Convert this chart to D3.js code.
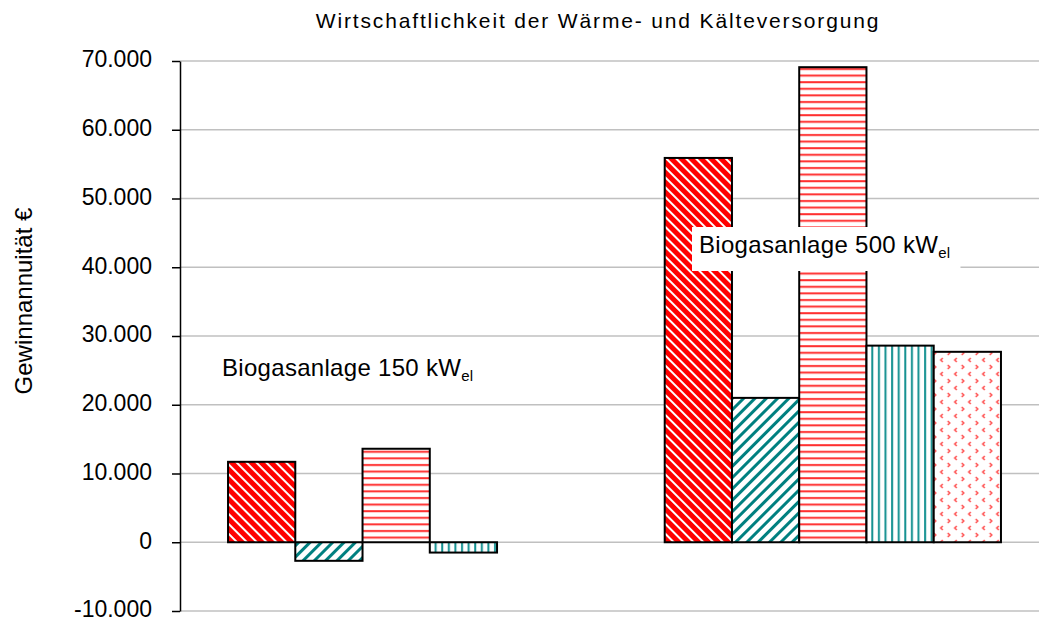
<!DOCTYPE html>
<html>
<head>
<meta charset="utf-8">
<script src="https://cdn.jsdelivr.net/npm/d3@7"></script>
<style>
  html, body { margin: 0; padding: 0; background: #fff; }
  svg { display: block; font-family: "Liberation Sans", Arial, sans-serif; }
</style>
</head>
<body>
<svg id="chart" width="1039" height="622"></svg>
<script>
// Plants (groups) and variants (series)
const plants = ["Biogasanlage 150 kWel", "Biogasanlage 500 kWel"];
const variants = ["V1", "V2", "V3", "V4", "V5"];
// Gewinnannuität in € per variant, one array per plant
const values150 = [11700, -2700, 13600, -1500, 0];
const values500 = [55900, 21000, 69100, 28600, 27700];
const yTicks = [-10000, 0, 10000, 20000, 30000, 40000, 50000, 60000, 70000];

const svg = d3.select("#chart");
const W = 1039, H = 622;
const plot = { left: 180, right: 1049, top: 61, bottom: 611 };

// ---- fill patterns ----
const defs = svg.append("defs");
// red with white downward diagonals
let p = defs.append("pattern").attr("id", "pRedDiag").attr("patternUnits", "userSpaceOnUse")
  .attr("width", 7).attr("height", 7).attr("patternTransform", "rotate(-45)");
p.append("rect").attr("width", 7).attr("height", 7).attr("fill", "#ff0000");
p.append("rect").attr("x", 0).attr("width", 2).attr("height", 7).attr("fill", "#ffffff");
// teal upward diagonals on white
p = defs.append("pattern").attr("id", "pTealDiag").attr("patternUnits", "userSpaceOnUse")
  .attr("width", 8).attr("height", 8).attr("patternTransform", "rotate(45)");
p.append("rect").attr("width", 8).attr("height", 8).attr("fill", "#ffffff");
p.append("rect").attr("x", 0).attr("width", 3).attr("height", 8).attr("fill", "#008080");
// red horizontal lines on white
p = defs.append("pattern").attr("id", "pRedHoriz").attr("patternUnits", "userSpaceOnUse")
  .attr("width", 8).attr("height", 6.6);
p.append("rect").attr("width", 8).attr("height", 6.6).attr("fill", "#ffffff");
p.append("rect").attr("y", 2).attr("width", 8).attr("height", 2).attr("fill", "#ff3030");
// teal vertical lines on white
p = defs.append("pattern").attr("id", "pTealVert").attr("patternUnits", "userSpaceOnUse")
  .attr("width", 6.6).attr("height", 8);
p.append("rect").attr("width", 6.6).attr("height", 8).attr("fill", "#ffffff");
p.append("rect").attr("x", 2).attr("width", 2).attr("height", 8).attr("fill", "#139090");
// red divots on white
p = defs.append("pattern").attr("id", "pDivot").attr("patternUnits", "userSpaceOnUse")
  .attr("width", 14).attr("height", 14);
p.append("rect").attr("width", 14).attr("height", 14).attr("fill", "#ffffff");
p.append("path").attr("d", "M3,1 L5,3 L3,5").attr("fill", "none").attr("stroke", "#ff4040").attr("stroke-width", 1.4);
p.append("path").attr("d", "M12,8 L10,10 L12,12").attr("fill", "none").attr("stroke", "#ff4040").attr("stroke-width", 1.4);
const fills = ["url(#pRedDiag)", "url(#pTealDiag)", "url(#pRedHoriz)", "url(#pTealVert)", "url(#pDivot)"];

// ---- scales ----
const y = d3.scaleLinear().domain([-10000, 70000]).range([plot.bottom, plot.top]);
const x0 = d3.scaleBand().domain(plants).range([plot.left, plot.right])
  .paddingInner(0.23).paddingOuter(0.11);
const x1 = d3.scaleBand().domain(variants).range([0, x0.bandwidth()]);

// ---- gridlines ----
svg.append("g").selectAll("line").data(yTicks).join("line")
  .attr("x1", plot.left).attr("x2", W)
  .attr("y1", d => y(d)).attr("y2", d => y(d))
  .attr("stroke", "#c0c0c0").attr("stroke-width", 1.5);

// ---- bars ----
const rows = [values150, values500];
plants.forEach((pl, gi) => {
  const g = svg.append("g").attr("transform", `translate(${x0(pl)},0)`);
  const data = variants.map((v, i) => ({ v, i, val: rows[gi][i] })).filter(d => d.val !== 0);
  g.selectAll("rect").data(data).join("rect")
    .attr("x", d => x1(d.v))
    .attr("width", x1.bandwidth())
    .attr("y", d => y(Math.max(0, d.val)))
    .attr("height", d => Math.abs(y(d.val) - y(0)))
    .attr("fill", d => fills[d.i])
    .attr("stroke", "#000").attr("stroke-width", 2);
});

// ---- y axis ----
// German thousands separator, plain hyphen for negatives
const fmt = d => d3.format(",")(d).replace(/,/g, ".").replace("\u2212", "-");
const axis = d3.axisLeft(y).tickValues(yTicks).tickFormat(fmt).tickSize(8).tickSizeOuter(0);
const ag = svg.append("g").attr("transform", `translate(${plot.left},0)`).call(axis);
ag.select(".domain").attr("stroke", "#000").attr("stroke-width", 1.5);
ag.selectAll(".tick line").attr("stroke", "#000").attr("stroke-width", 1.5);
ag.selectAll(".tick text").attr("x", -28).attr("dy", "0.25em").attr("font-size", 23).attr("fill", "#000")
  .attr("font-family", "'Liberation Sans', Arial, sans-serif");

// ---- title and axis label ----
svg.append("text").attr("x", 598).attr("y", 28).attr("text-anchor", "middle")
  .attr("font-size", 21).attr("letter-spacing", 1.85).attr("fill", "#000")
  .text("Wirtschaftlichkeit der Wärme- und Kälteversorgung");
svg.append("text").attr("transform", "translate(32,301) rotate(-90)")
  .attr("text-anchor", "middle").attr("font-size", 24).attr("fill", "#000")
  .text("Gewinnannuität €");

// ---- plant annotations ----
function label(xPos, yPos, main, boxed) {
  const t = svg.append("text").attr("x", xPos).attr("y", yPos).attr("font-size", 24)
    .attr("letter-spacing", 0.3).attr("fill", "#000");
  t.append("tspan").text(main + " kW");
  t.append("tspan").attr("font-size", 15).attr("dy", 5).text("el");
  if (boxed) {
    const bb = t.node().getBBox();
    svg.insert("rect", () => t.node())
      .attr("x", bb.x - 7).attr("y", yPos - 26).attr("width", bb.width + 17).attr("height", 44)
      .attr("fill", "#fff");
  }
}
label(222, 376, "Biogasanlage 150", false);
label(699, 253, "Biogasanlage 500", true);
</script>
</body>
</html>
